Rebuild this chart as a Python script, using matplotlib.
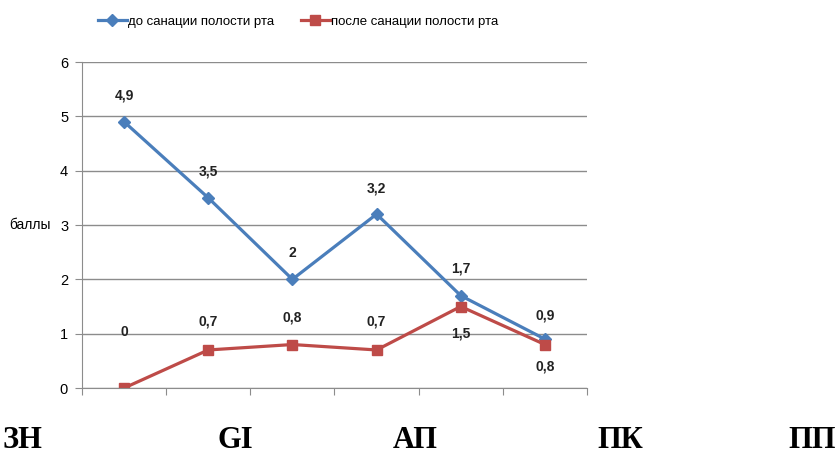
import numpy as np
import matplotlib
matplotlib.use('Agg')
import matplotlib.pyplot as plt

categories = ['1', '2', '3', '4', '5', '6']
before = [4.9, 3.5, 2, 3.2, 1.7, 0.9]
after = [0, 0.7, 0.8, 0.7, 1.5, 0.8]
before_labels = ['4,9', '3,5', '2', '3,2', '1,7', '0,9']
after_labels = ['0', '0,7', '0,8', '0,7', '1,5', '0,8']
bottom_words = ['ЗН', 'GI', 'АП', 'ПК', 'ПП']
bottom_x = [22, 235, 415, 620, 812]

plt.rcParams['font.family'] = ['Liberation Sans', 'DejaVu Sans']

blue = '#4A7EBB'
red = '#BE4B48'
grey = '#8C8C8C'

fig = plt.figure(figsize=(8.36, 4.68), dpi=100)
ax = fig.add_axes([82 / 836, 1 - 388 / 468, 505 / 836, 326 / 468])

x = np.arange(len(categories))
ax.plot(x, before, color=blue, lw=2.3, marker='D', ms=6, label='до санации полости рта')
ax.plot(x, after, color=red, lw=2.3, marker='s', ms=7, label='после санации полости рта')

# data labels (pixel offsets)
off_before = [26, 26, 26, 26, 27, 24]
off_after = [56, 28, 27, 28, -27, -22]
for i in range(len(x)):
    ax.annotate(before_labels[i], (x[i], before[i]), xytext=(0, off_before[i] * 0.72),
                textcoords='offset points', ha='center', va='center', fontsize=10,
                fontweight='bold', color='#222222')
    ax.annotate(after_labels[i], (x[i], after[i]), xytext=(0, off_after[i] * 0.72),
                textcoords='offset points', ha='center', va='center', fontsize=10,
                fontweight='bold', color='#222222')

ax.set_xlim(-0.5, len(x) - 0.5)
ax.set_ylim(0, 6)
ax.set_yticks(range(7))
ax.set_xticks(np.arange(-0.5, len(x)), labels=[''] * (len(x) + 1))
ax.grid(axis='y', color=grey, lw=1)
ax.set_axisbelow(True)
for s in ['top', 'right']:
    ax.spines[s].set_visible(False)
for s in ['left', 'bottom']:
    ax.spines[s].set_color(grey)
ax.tick_params(axis='x', length=5, color=grey, direction='out')
ax.tick_params(axis='y', length=5, color=grey, labelsize=10.5, pad=5)
ax.set_ylabel('баллы', rotation=0, fontsize=10, va='center', ha='center')
ax.yaxis.set_label_coords(-52 / 505, 0.5)

fig.legend(loc='center', bbox_to_anchor=(298 / 836, 1 - 22 / 468), ncol=2, frameon=False,
           fontsize=9.5, handlelength=2.2, columnspacing=2.0, handletextpad=0.1)

for w, px in zip(bottom_words, bottom_x):
    fig.text(px / 836, 1 - 440 / 468, w, ha='center', va='center', fontsize=22,
             fontweight='bold', family=['Liberation Serif', 'DejaVu Serif'])

fig.savefig('out.png', dpi=100)
